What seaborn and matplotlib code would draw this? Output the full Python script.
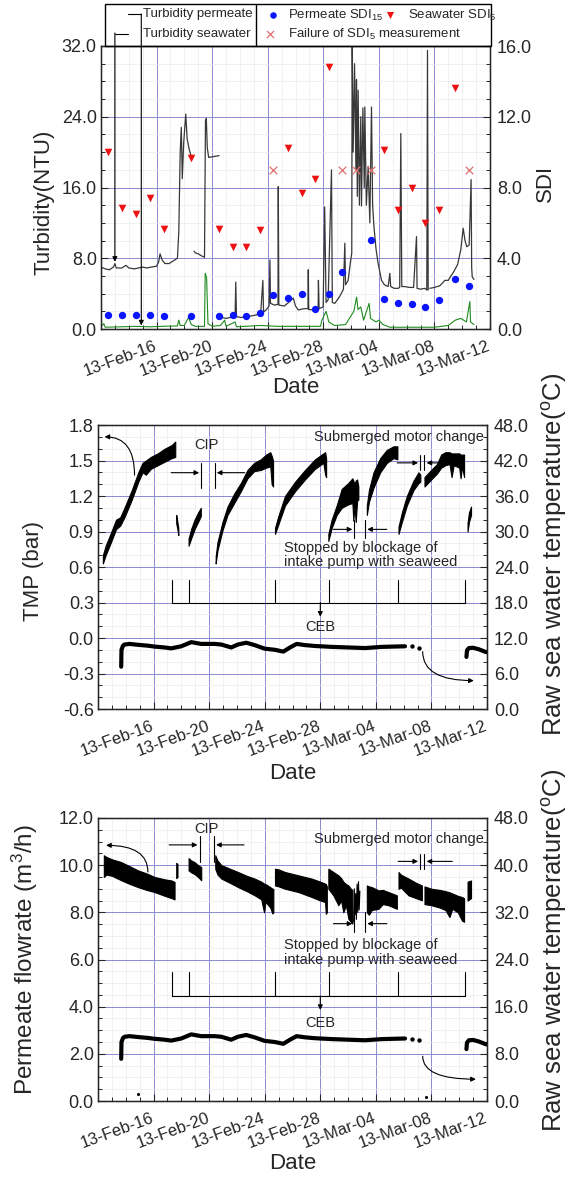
import numpy as np
import pandas as pd
import matplotlib
matplotlib.use("Agg")
import matplotlib.pyplot as plt
import matplotlib.dates as mdates
from matplotlib.patches import Rectangle
from matplotlib.ticker import MultipleLocator, FormatStrFormatter
import seaborn as sns

sns.set_style("ticks")
plt.rcParams['font.family'] = ['Liberation Sans', 'DejaVu Sans']
plt.rcParams['mathtext.fontset'] = 'custom'
plt.rcParams['mathtext.rm'] = 'Liberation Sans'
plt.rcParams['mathtext.it'] = 'Liberation Sans:italic'
plt.rcParams['axes.unicode_minus'] = False

START = pd.Timestamp("2013-02-12")
tick_dates = ["2013-02-16", "2013-02-20", "2013-02-24", "2013-02-28",
              "2013-03-04", "2013-03-08", "2013-03-12"]

# ---- panel 1: turbidity (NTU) and SDI, days counted from 12 Feb 2013 ----
sw_day = [0.0, 0.3, 0.6, 0.9, 1.0, 1.1, 1.5, 1.8, 2.0, 2.4, 2.7, 3.0, 3.3, 3.6, 4.0, 4.15, 4.25, 4.4,
          4.6, 4.9, 5.2, 5.5, 5.6, 5.7, 5.78, 5.85, 5.95, 6.1, 6.2, 6.35, 6.5, 6.55,
          6.6,
          6.7, 6.8, 7.0, 7.2, 7.45, 7.52, 7.58, 7.65, 7.75, 8.1, 8.5,
          8.5,
          8.52, 8.7, 9.0, 9.3, 9.65, 9.7, 9.75, 10.1, 10.5, 10.9, 11.2, 11.5, 11.65, 11.7, 11.9,
          12.1, 12.16, 12.2, 12.5, 12.74, 12.76, 12.8, 13.2, 13.5, 13.84, 14.0, 14.2, 14.6, 14.9,
          14.92, 14.95, 15.39, 15.63, 15.65, 15.7, 15.99, 16.1, 16.2, 16.35, 16.59, 16.65, 16.83,
          17.19, 17.45, 17.55, 17.6, 17.79, 17.95, 18.05, 18.08, 18.15, 18.25, 18.35, 18.39, 18.45,
          18.51, 18.6, 18.7, 18.75, 18.85, 18.95, 18.99, 19.1, 19.23, 19.35, 19.47, 19.55, 19.65,
          19.8, 19.95, 20.19, 20.4, 20.67, 20.79, 20.85, 21.1, 21.39, 21.5, 21.58, 21.65, 21.87,
          22.2, 22.5, 22.71, 22.75, 23.0, 23.31, 23.45, 23.5, 23.55,
          23.6,
          23.67, 24.0, 24.4, 24.75, 25.0, 25.15, 25.4, 25.67, 25.9, 26.07, 26.2, 26.33, 26.5, 26.64,
          26.68, 26.72, 26.85]
sw_ntu = [7.0, 6.8, 6.7, 7.0, 7.4, 6.9, 6.9, 7.2, 6.9, 6.8, 6.9, 7.0, 6.9, 7.0, 7.1, 7.6, 8.5, 7.8,
          7.4, 7.4, 7.7, 8.0, 11.0, 20.0, 22.8, 17.0, 21.0, 24.3, 21.5, 20.3, 19.5, 19.2,
          np.nan,
          8.8, 8.6, 8.5, 8.3, 8.1, 23.5, 23.8, 20.5, 19.4, 19.5, 19.6,
          np.nan,
          1.3, 1.3, 1.2, 1.3, 1.3, 5.3, 1.4, 1.3, 1.4, 1.5, 1.6, 1.9, 5.5, 1.9, 2.2,
          2.6, 7.8, 2.9, 2.7, 2.8, 16.1, 2.7, 2.6, 3.0, 3.5, 2.6, 2.15, 2.3, 2.3,
          6.7, 2.2, 2.15, 2.3, 5.5, 2.3, 2.5, 13.8, 3.0, 3.3, 18.0, 3.0, 2.9,
          3.7, 4.5, 9.7, 5.0, 5.5, 7.5, 8.6, 32.5, 20.0, 30.0, 18.0, 28.2, 15.0,
          27.0, 14.0, 24.0, 13.9, 25.0, 16.0, 25.1, 14.0, 18.4, 12.0, 25.1, 14.0, 11.5,
          9.0, 7.4, 5.5, 5.0, 4.8, 6.3, 4.8, 4.6, 4.6, 4.7, 22.1, 4.8, 4.8,
          4.7, 4.7, 10.45, 4.6, 4.5, 4.6, 4.4, 31.5, 4.4,
          np.nan,
          4.6, 4.7, 4.9, 5.5, 5.5, 5.9, 6.5, 7.3, 9.0, 11.4, 10.0, 9.3, 9.5, 16.9,
          7.0, 5.9, 5.6]

perm_day = [0.0, 0.2, 0.3, 1.5, 2.5, 3.5, 4.4, 5.5, 5.6, 5.7, 6.0, 6.3, 6.5, 6.8, 7.45, 7.5, 7.6,
            7.7, 8.0, 8.6, 8.9, 9.0, 9.65, 9.75, 11.5, 12.7, 13.5, 15.8, 15.9, 16.2, 16.4, 16.8,
            17.6, 18.0, 18.2, 18.4, 18.5, 18.7, 18.9, 19.3, 19.4, 19.8, 20.0, 20.3, 20.8, 22.0,
            24.0, 25.0, 25.5, 25.9, 26.3, 26.55, 26.6, 26.85]
perm_ntu = [0.3, 0.6, 0.2, 0.25, 0.3, 0.25, 0.3, 0.35, 1.0, 0.4, 0.4, 1.3, 0.5, 0.3, 0.3, 6.3, 5.8,
            0.6, 0.3, 0.4, 1.0, 0.3, 0.8, 0.25, 0.4, 0.3, 0.3, 0.3, 1.0, 2.0, 0.8, 0.4,
            0.5, 1.5, 2.0, 3.6, 2.2, 2.5, 1.0, 2.9, 1.2, 0.8, 1.0, 0.5, 0.2, 0.2,
            0.2, 0.4, 1.0, 1.2, 0.8, 3.1, 0.8, 0.5]

sdi15_day = [0.5, 1.5, 2.5, 3.5, 4.5, 6.5, 8.5, 9.5, 10.45, 11.45, 12.4, 13.45, 14.45, 15.4,
             16.4, 17.35, 19.4, 20.37, 21.37, 22.35, 23.35, 24.34, 25.45, 26.5]
sdi15_val = [0.78, 0.78, 0.78, 0.78, 0.74, 0.76, 0.76, 0.8, 0.76, 0.92, 1.92, 1.77, 1.98, 1.15,
             1.98, 3.2, 5.03, 1.7, 1.45, 1.39, 1.26, 1.64, 2.83, 2.45]
sdi5_day = [0.5, 1.5, 2.5, 3.5, 4.5, 6.5, 8.5, 9.5, 10.45, 11.45, 13.45, 14.45, 15.4, 16.4,
            20.37, 21.37, 22.35, 23.35, 24.34, 25.45]
sdi5_val = [10.0, 6.85, 6.5, 7.4, 5.65, 9.65, 5.65, 4.65, 4.65, 5.6, 10.25, 7.7, 8.5, 14.8,
            10.1, 6.7, 7.95, 6.0, 6.75, 13.65]
fail_day = [12.4, 17.35, 18.35, 19.4, 26.5]
fail_val = [9.0, 9.0, 9.0, 9.0, 9.0]

# ---- panel 2: TMP band (bar) ----
tmp_day = [0.35, 0.55, 0.9, 1.3, 1.6, 1.9, 2.4, 2.9, 3.2, 3.45, 3.8, 4.3, 4.8, 5.3, 5.56,
           5.6,
           5.63, 5.70, 5.78,
           6.0,
           6.52, 6.7, 6.95, 7.2, 7.4,
           8.0,
           8.47, 8.6, 8.96, 9.32, 9.8, 10.28, 10.76, 11.24, 11.72, 12.1, 12.4, 12.5, 12.6,
           12.7,
           12.74, 12.98, 13.46, 14.18, 14.9, 15.62, 16.22, 16.35, 16.42,
           16.5,
           16.58, 16.82, 17.18, 17.54, 18.02, 18.31, 18.38, 18.45, 18.55, 18.65, 18.74,
           19.0,
           19.35, 19.5, 19.83, 20.31, 20.79, 21.27, 21.55,
           21.6,
           21.63, 21.87, 22.23, 22.71, 23.07, 23.2,
           23.4,
           23.5, 23.9, 24.4, 24.7, 25.0, 25.3, 25.45, 25.6, 26.0, 26.1, 26.2, 26.35,
           26.5,
           26.6, 26.7, 26.85]
tmp_lo = [0.63, 0.70, 0.80, 0.92, 0.95, 1.02, 1.16, 1.32, 1.40, 1.38, 1.43, 1.46, 1.49, 1.52, 1.53,
          np.nan,
          0.97, 0.93, 0.87,
          np.nan,
          0.78, 0.84, 0.92, 0.98, 1.03,
          np.nan,
          0.63, 0.74, 0.91, 1.04, 1.14, 1.24, 1.35, 1.41, 1.42, 1.44, 1.45, 1.30, 1.28,
          np.nan,
          0.88, 0.96, 1.12, 1.24, 1.34, 1.43, 1.48, 1.38, 1.36,
          np.nan,
          0.82, 0.93, 1.04, 1.10, 1.13, 1.14, 0.99, 1.12, 0.98, 1.16, 1.17,
          np.nan,
          1.04, 1.15, 1.27, 1.40, 1.48, 1.52, 1.51,
          np.nan,
          0.88, 0.98, 1.12, 1.25, 1.31, 1.32,
          np.nan,
          1.28, 1.33, 1.39, 1.44, 1.46, 1.47, 1.36, 1.46, 1.44, 1.35, 1.45, 1.36,
          np.nan,
          0.90, 0.98, 1.04]
tmp_hi = [0.70, 0.78, 0.88, 1.00, 1.02, 1.10, 1.24, 1.40, 1.48, 1.50, 1.53, 1.56, 1.60, 1.63, 1.66,
          np.nan,
          1.04, 0.99, 0.93,
          np.nan,
          0.84, 0.92, 1.00, 1.06, 1.10,
          np.nan,
          0.69, 0.81, 0.98, 1.11, 1.22, 1.31, 1.42, 1.48, 1.51, 1.55, 1.57, 1.54, 1.50,
          np.nan,
          0.93, 1.03, 1.20, 1.32, 1.42, 1.51, 1.56, 1.57, 1.52,
          np.nan,
          0.88, 1.00, 1.12, 1.26, 1.31, 1.35, 1.33, 1.30, 1.33, 1.34, 1.28,
          np.nan,
          1.12, 1.25, 1.40, 1.52, 1.59, 1.62, 1.62,
          np.nan,
          0.94, 1.06, 1.20, 1.33, 1.40, 1.38,
          np.nan,
          1.36, 1.41, 1.47, 1.55, 1.57, 1.57, 1.56, 1.56, 1.56, 1.55, 1.55, 1.55,
          np.nan,
          0.97, 1.06, 1.11]

# ---- raw sea water temperature (deg C), same record in panels 2 and 3 ----
temp_day = [1.67, 1.69, 1.8, 1.91, 2.27, 2.87, 3.59, 4.07, 4.79, 5.27, 5.99, 6.71, 7.43, 8.39,
            8.87, 9.59, 10.07, 10.67, 11.27, 11.99, 12.74, 13.34, 13.82, 14.3, 14.9, 15.62,
            16.82, 18.02, 19.22, 20.43, 22.1,
            24.0,
            26.52, 26.56, 26.7, 27.0, 27.4, 27.95]
temp_val = [7.15, 10.0, 10.7, 10.9, 11.0, 10.85, 10.7, 10.55, 10.4, 10.25, 10.6, 11.3, 11.0, 11.0,
            10.9, 10.4, 10.9, 11.2, 10.8, 10.2, 10.0, 9.7, 10.4, 11.0, 10.8, 10.65,
            10.5, 10.4, 10.3, 10.5, 10.6,
            np.nan,
            8.8, 9.9, 10.3, 10.35, 10.1, 9.6]
temp_dot_day = [22.58, 23.1]
temp_dot_val = [10.6, 10.3]

# ---- panel 3: permeate flowrate band (m3/h) ----
flow_day = [0.42, 0.6, 1.0, 1.67, 2.3, 2.87, 3.5, 4.07, 4.8, 5.3, 5.51,
            5.57,
            5.63, 5.72,
            6.0,
            6.52, 6.7, 6.95, 7.2, 7.43,
            8.0,
            8.44, 8.6, 8.88, 9.5, 10.08, 10.7, 11.28, 11.75, 11.95, 12.05, 12.4, 12.55, 12.62,
            12.7,
            12.74, 13.0, 13.46, 14.42, 15.38, 16.0, 16.34, 16.4, 16.47,
            16.52,
            16.58, 16.94, 17.3, 17.5, 17.66, 17.85, 18.02, 18.2, 18.31,
            19.0,
            19.35, 19.5, 19.71, 20.19, 20.5, 20.91, 21.51,
            21.57,
            21.63, 21.8, 22.35, 22.9, 23.31,
            23.4,
            23.5, 24.0, 24.6, 25.0, 25.3, 25.5, 25.9, 26.2, 26.35,
            26.5,
            26.6, 26.85]
flow_lo = [9.5, 9.6, 9.55, 9.36, 9.2, 9.07, 8.95, 8.86, 8.7, 8.6, 8.55,
           np.nan,
           9.45, 9.5,
           np.nan,
           9.78, 9.7, 9.62, 9.5, 9.36,
           np.nan,
           9.85, 9.6, 9.43, 9.25, 9.07, 8.9, 8.72, 8.55, 8.0, 8.45, 8.2, 7.95, 8.0,
           np.nan,
           9.14, 9.1, 9.0, 8.86, 8.65, 8.5, 8.44, 7.94, 8.0,
           np.nan,
           9.0, 8.72, 8.3, 8.5, 8.0, 8.3, 7.73, 7.6, 7.52,
           np.nan,
           8.0, 7.9, 8.1, 8.15, 8.35, 8.3, 8.15,
           np.nan,
           9.0, 9.05, 8.72, 8.6, 8.51,
           np.nan,
           8.35, 8.3, 8.2, 8.1, 7.8, 8.15, 8.0, 7.65, 7.6,
           np.nan,
           8.5, 8.6]
flow_hi = [10.42, 10.35, 10.25, 10.13, 9.95, 9.78, 9.65, 9.5, 9.4, 9.35, 9.29,
           np.nan,
           10.1, 10.05,
           np.nan,
           10.3, 10.2, 10.13, 10.0, 9.92,
           np.nan,
           10.42, 10.2, 10.0, 9.85, 9.71, 9.55, 9.43, 9.3, 9.22, 9.2, 9.07, 9.0, 9.0,
           np.nan,
           9.85, 9.82, 9.71, 9.57, 9.43, 9.3, 9.22, 9.2, 9.1,
           np.nan,
           9.85, 9.71, 9.57, 9.45, 9.3, 9.2, 9.14, 9.0, 8.95,
           np.nan,
           9.14, 9.1, 9.07, 8.93, 8.95, 8.86, 8.72,
           np.nan,
           9.71, 9.6, 9.43, 9.25, 9.14,
           np.nan,
           9.1, 9.0, 8.95, 8.9, 8.85, 8.8, 8.7, 8.65, 8.6,
           np.nan,
           9.3, 9.35]
flow_scatter_day = [18.4, 18.45, 18.5, 18.55, 18.6, 18.65, 18.7, 18.75, 18.8, 18.85]
flow_scatter_val = [7.6, 9.0, 7.9, 8.8, 7.7, 9.2, 8.0, 9.3, 8.1, 8.9]
flow_zero_day = [2.87, 23.6]
flow_zero_val = [0.3, 0.15]

# CEB events (days)
ceb_day = [5.3, 6.55, 12.75, 16.6, 21.6, 26.4]


def to_date(days):
    return START + pd.to_timedelta(np.asarray(days, dtype=float), unit="D")


def seg_frame(days, vals):
    df = pd.DataFrame({"date": to_date(days), "val": vals})
    df["seg"] = df["val"].isna().cumsum()
    return df.dropna()


def band(ax, days, lo, hi):
    df = pd.DataFrame({"date": to_date(days), "lo": lo, "hi": hi})
    df["seg"] = df["lo"].isna().cumsum()
    for _, g in df.dropna().groupby("seg"):
        ax.fill_between(g["date"], g["lo"], g["hi"], color="black", lw=0.8, edgecolor="black")


W, H = 569, 1183
fig = plt.figure(figsize=(W / 100, H / 100), dpi=100)


def box(l, t, r, b):
    return [l / W, 1 - b / H, (r - l) / W, (b - t) / H]


def style_panel(ax, axr, llim, lmaj, lmin, rlim, rmaj, rmin, ylabel, rlabel, lab_x, lab_y,
                rlab_x, rlab_y, date_y, lsize=16, rsize=16):
    ax.set_xlim(START, START + pd.Timedelta(days=28))
    ax.set_xticks(pd.to_datetime(tick_dates))
    ax.xaxis.set_major_formatter(mdates.DateFormatter("%y-%b-%d"))
    ax.xaxis.set_minor_locator(mdates.DayLocator())
    ax.set_ylim(*llim)
    ax.yaxis.set_major_locator(MultipleLocator(lmaj))
    ax.yaxis.set_minor_locator(MultipleLocator(lmin))
    ax.yaxis.set_major_formatter(FormatStrFormatter("%.1f"))
    axr.set_ylim(*rlim)
    axr.yaxis.set_major_locator(MultipleLocator(rmaj))
    axr.yaxis.set_minor_locator(MultipleLocator(rmin))
    axr.yaxis.set_major_formatter(FormatStrFormatter("%.1f"))
    ax.grid(which="major", color="#8a8ad2", lw=0.7)
    ax.grid(which="minor", color="#ececec", lw=0.5)
    ax.set_axisbelow(True)
    ax.tick_params(which="both", direction="in", top=False, right=False, labelsize=13, pad=3)
    ax.tick_params(which="major", length=5, width=0.8)
    ax.tick_params(which="minor", length=3, width=0.7)
    ax.tick_params(axis="x", which="major", labelsize=12, pad=12)
    axr.tick_params(which="both", direction="in", labelsize=13, pad=5)
    axr.tick_params(which="major", length=5, width=0.8)
    axr.tick_params(which="minor", length=3, width=0.7)
    for lbl in ax.get_xticklabels():
        lbl.set(rotation=20, ha="right", va="center", rotation_mode="anchor")
    for sp in ax.spines.values():
        sp.set_linewidth(1.0)
        sp.set_color("black")
    ax.set_xlabel("Date", fontsize=16)
    ax.xaxis.set_label_coords(0.5, date_y)
    ax.set_ylabel(ylabel, fontsize=lsize)
    ax.yaxis.set_label_coords(lab_x, lab_y)
    axr.set_ylabel(rlabel, fontsize=rsize)
    axr.yaxis.set_label_coords(rlab_x, rlab_y)


arrow_kw = dict(arrowstyle="-|>", color="black", lw=0.8, mutation_scale=7, shrinkA=0, shrinkB=0)
temp_label = r"Raw sea water temperature($^{\mathrm{o}}$C)"

# ================= panel 1 =================
ax1 = fig.add_axes(box(101, 46, 490, 329))
ax1r = ax1.twinx()
sns.lineplot(data=seg_frame(perm_day, perm_ntu), x="date", y="val", units="seg", estimator=None,
             sort=False, color="#1f8a1f", lw=0.8, ax=ax1, legend=False)
sns.lineplot(data=seg_frame(sw_day, sw_ntu), x="date", y="val", units="seg", estimator=None,
             sort=False, color="#383838", lw=0.9, ax=ax1, legend=False)
sns.scatterplot(x=to_date(sdi15_day), y=sdi15_val, marker="o", color="#0a14ff", s=28,
                linewidth=0, ax=ax1r, zorder=5)
sns.scatterplot(x=to_date(sdi5_day), y=sdi5_val, marker="v", color="#ee1111", s=30,
                linewidth=0, ax=ax1r, zorder=5)
sns.scatterplot(x=to_date(fail_day), y=fail_val, marker="x", color="#e07070", s=30,
                linewidth=0.9, ax=ax1r, zorder=5)
style_panel(ax1, ax1r, (0, 32), 8, 2, (0, 16), 4, 1, "Turbidity(NTU)", "SDI",
            -0.119, 0.446, 1.116, 0.515, -0.17)
# legend pointers into the plot
ax1.annotate("", xy=(to_date([1.0])[0], 7.6), xycoords="data",
             xytext=(to_date([1.0])[0], 1.046), textcoords=("data", "axes fraction"),
             arrowprops=arrow_kw, annotation_clip=False)
ax1.annotate("", xy=(to_date([2.9])[0], 0.4), xycoords="data",
             xytext=(to_date([2.9])[0], 1.113), textcoords=("data", "axes fraction"),
             arrowprops=arrow_kw, annotation_clip=False)

# ================= panel 2 =================
ax2 = fig.add_axes(box(98, 425, 487, 709))
ax2r = ax2.twinx()
band(ax2, tmp_day, tmp_lo, tmp_hi)
sns.lineplot(data=seg_frame(temp_day, temp_val), x="date", y="val", units="seg", estimator=None,
             sort=False, color="black", lw=3, ax=ax2r, legend=False)
sns.scatterplot(x=to_date(temp_dot_day), y=temp_dot_val, color="black", s=10, linewidth=0, ax=ax2r)
style_panel(ax2, ax2r, (-0.6, 1.8), 0.3, 0.1, (0, 48), 6, 2, "TMP (bar)", temp_label,
            -0.14, 0.486, 1.135, 0.546, -0.19, lsize=16, rsize=18.5)

# ================= panel 3 =================
ax3 = fig.add_axes(box(98, 818, 487, 1101))
ax3r = ax3.twinx()
band(ax3, flow_day, flow_lo, flow_hi)
sns.lineplot(x=to_date(flow_scatter_day), y=flow_scatter_val, color="black", lw=0.8, ax=ax3,
             estimator=None, sort=False)
sns.scatterplot(x=to_date(flow_zero_day), y=flow_zero_val, color="black", s=5, linewidth=0, ax=ax3)
sns.lineplot(data=seg_frame(temp_day, temp_val), x="date", y="val", units="seg", estimator=None,
             sort=False, color="black", lw=3, ax=ax3r, legend=False)
sns.scatterplot(x=to_date(temp_dot_day), y=temp_dot_val, color="black", s=10, linewidth=0, ax=ax3r)
style_panel(ax3, ax3r, (0, 12), 2, 0.5, (0, 48), 8, 2, r"Permeate flowrate (m$^3$/h)", temp_label,
            -0.149, 0.5, 1.135, 0.534, -0.185, lsize=17.5, rsize=18.5)


def d(x):
    return to_date([x])[0]


def event_marks(ax, cip, sub, stop, ceb, curve_main, txt_cip, txt_sub, txt_stop, txt_ceb):
    # cip / sub / stop: (bar_a, bar_b, y_lo, y_hi, y_arrow, from_left, from_right)
    for a, b, lo, hi, ya, fl, fr in (cip, sub, stop):
        ax.plot([d(a), d(a)], [lo, hi], color="black", lw=0.8)
        ax.plot([d(b), d(b)], [lo, hi], color="black", lw=0.8)
        ax.annotate("", xy=(d(a - 0.15), ya), xytext=(d(fl), ya), arrowprops=arrow_kw)
        ax.annotate("", xy=(d(b + 0.15), ya), xytext=(d(fr), ya), arrowprops=arrow_kw)
    ax.text(d(txt_cip[0]), txt_cip[1], "CIP", fontsize=10.5, ha="center", va="center")
    ax.text(d(txt_sub[0]), txt_sub[1], "Submerged motor change", fontsize=10.5, ha="center",
            va="center")
    ax.text(d(txt_stop[0]), txt_stop[1], "Stopped by blockage of\nintake pump with seaweed",
            fontsize=10.5, ha="left", va="center", linespacing=1.05)
    y0, y1, yarr = ceb
    ax.plot([d(ceb_day[0]), d(ceb_day[-1])], [y0, y0], color="black", lw=0.8)
    for c in ceb_day:
        ax.plot([d(c), d(c)], [y0, y1], color="black", lw=0.8)
    ax.annotate("", xy=(d(16.0), yarr), xytext=(d(16.0), y0), arrowprops=arrow_kw)
    ax.text(d(16.0), txt_ceb, "CEB", fontsize=10.5, ha="center", va="center")
    (sx, sy), (ex, ey) = curve_main
    ax.annotate("", xy=(d(ex), ey), xytext=(d(sx), sy),
                arrowprops=dict(arrow_kw, connectionstyle="angle3,angleA=90,angleB=0"))


event_marks(ax2,
            cip=(7.43, 8.4, 1.267, 1.479, 1.397, 5.27, 10.56),
            sub=(23.19, 23.5, 1.42, 1.546, 1.48, 21.53, 25.47),
            stop=(18.46, 19.23, 0.845, 1.0, 0.918, 16.94, 20.79),
            ceb=(0.3, 0.49, 0.18),
            curve_main=((2.63, 1.377), (0.47, 1.70)),
            txt_cip=(7.8, 1.63), txt_sub=(21.66, 1.70), txt_stop=(13.39, 0.70), txt_ceb=0.09)
ax2r.annotate("", xy=(d(27.05), 4.8), xytext=(d(23.37), 9.7),
              arrowprops=dict(arrow_kw, connectionstyle="angle3,angleA=90,angleB=0"))

event_marks(ax3,
            cip=(7.31, 8.35, 10.15, 11.25, 10.86, 5.12, 10.51),
            sub=(23.19, 23.5, 9.85, 10.49, 10.16, 21.6, 25.5),
            stop=(18.46, 19.23, 7.17, 8.01, 7.52, 16.94, 20.79),
            ceb=(4.46, 5.47, 3.86),
            curve_main=((3.59, 9.71), (0.58, 10.84)),
            txt_cip=(7.77, 11.55), txt_sub=(21.66, 11.1), txt_stop=(13.39, 6.3), txt_ceb=3.29)
ax3r.annotate("", xy=(d(27.2), 3.7), xytext=(d(23.37), 7.6),
              arrowprops=dict(arrow_kw, connectionstyle="angle3,angleA=90,angleB=0"))

# ================= legend box (figure pixel coords) =================
ov = fig.add_axes([0, 0, 1, 1], zorder=10)
ov.set_xlim(0, W)
ov.set_ylim(H, 0)
ov.axis("off")
ov.patch.set_alpha(0)
ov.add_patch(Rectangle((105, 4), 386, 42, fill=False, lw=1.0, ec="black"))
ov.plot([256, 256], [4, 46], color="black", lw=1.0)
ov.plot([128, 141.3], [14, 14], color="black", lw=0.8)
ov.plot([115, 128], [33.5, 33.5], color="black", lw=0.8)
ov.text(143, 14, "Turbidity permeate", fontsize=9.5, va="center", ha="left")
ov.text(143, 34, "Turbidity seawater", fontsize=9.5, va="center", ha="left")
ov.scatter([273], [15], marker="o", color="#0a14ff", s=22, linewidths=0)
ov.text(288, 15, r"Permeate SDI$_{15}$", fontsize=9.5, va="center", ha="left")
ov.scatter([390], [15], marker="v", color="#ee1111", s=26, linewidths=0)
ov.text(408, 15, r"Seawater SDI$_{5}$", fontsize=9.5, va="center", ha="left")
ov.scatter([270], [34], marker="x", color="#e07070", s=26, linewidths=0.9)
ov.text(288, 34, r"Failure of SDI$_{5}$ measurement", fontsize=9.5, va="center", ha="left")

fig.savefig("out.png", dpi=100)
